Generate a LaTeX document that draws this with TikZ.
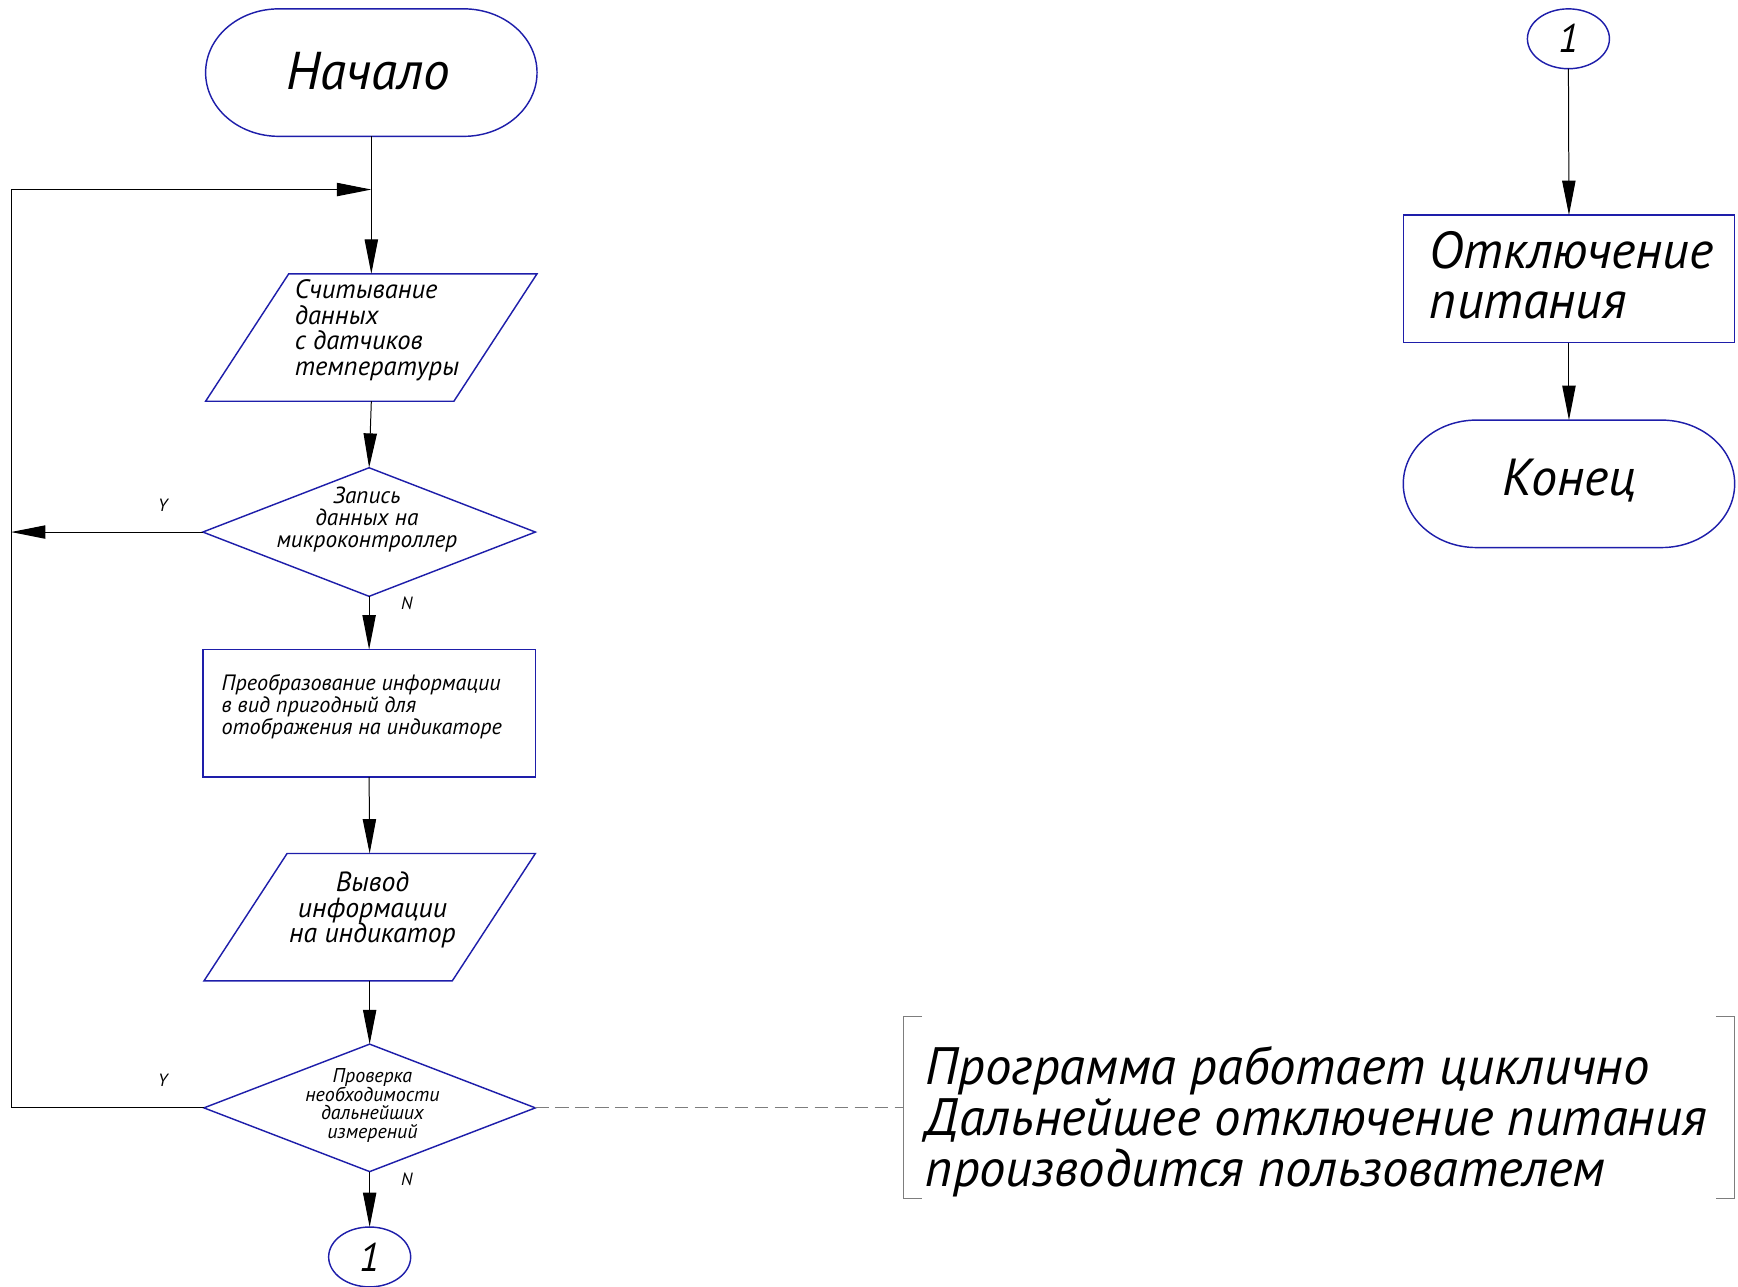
\documentclass[tikz,border=0pt]{standalone}
\usepackage{fontspec}
\setmainfont{PT Sans}
\usetikzlibrary{arrows.meta,calc}
\definecolor{shapeblue}{RGB}{30,30,170}
\definecolor{dashgray}{RGB}{125,125,125}
\newcommand{\gfs}[2]{\fontsize{#1}{#2}\selectfont\itshape}
\begin{document}
\begin{tikzpicture}[x=1pt,y=-1pt,
  outline/.style={draw=shapeblue,line width=1.3pt},
  box/.style={rectangle,inner sep=0pt,outer sep=0pt,minimum width=299pt,minimum height=115pt},
  oval/.style={rectangle,inner sep=0pt,outer sep=0pt,minimum width=74pt,minimum height=54pt},
  conn/.style={draw=black,line width=0.9pt,-{Triangle[length=31pt,width=12pt]}},
  dashline/.style={draw=dashgray,line width=0.9pt,dash pattern=on 12pt off 6pt},
  bracketline/.style={draw=dashgray,line width=0.9pt},
  txt/.style={inner sep=0pt,outer sep=0pt,text=black},
  yn/.style={inner sep=0pt,text=black,font=\gfs{16}{16}},
]
\useasboundingbox (0,0) rectangle (1568,1161);

% ---------- left column shape frames ----------
\node[box] (start) at (335,65.5) {};
\node[box] (p1) at (335,304.5) {};
\node[box,minimum width=300pt,minimum height=116pt] (d1) at (333,480) {};
\node[box,minimum width=300pt] (r1) at (333,643.5) {};
\node[box] (p2) at (333.5,827.5) {};
\node[box,minimum height=115pt] (d2) at (333.5,999.5) {};
\node[oval] (c1) at (333.5,1134) {};

% ---------- right column ----------
\node[oval] (c2) at (1415,35) {};
\node[box] (r2) at (1415.5,251.5) {};
\node[box] (stop) at (1415.5,436.5) {};

% note bracket frame
\node[rectangle,inner sep=0pt,outer sep=0pt,minimum width=750pt,minimum height=164pt] (note) at (1190,999.5) {};

% ---------- outlines ----------
\draw[outline] ([xshift=66pt]start.north west) -- ([xshift=-66pt]start.north east)
  arc[start angle=90,end angle=-90,x radius=66pt,y radius=57.5pt]
  -- ([xshift=66pt]start.south west)
  arc[start angle=270,end angle=90,x radius=66pt,y radius=57.5pt] -- cycle;
\draw[outline] ([xshift=66pt]stop.north west) -- ([xshift=-66pt]stop.north east)
  arc[start angle=90,end angle=-90,x radius=66pt,y radius=57.5pt]
  -- ([xshift=66pt]stop.south west)
  arc[start angle=270,end angle=90,x radius=66pt,y radius=57.5pt] -- cycle;
\draw[outline] ([xshift=75pt]p1.north west) -- (p1.north east) -- ([xshift=-75pt]p1.south east) -- (p1.south west) -- cycle;
\draw[outline] ([xshift=75pt]p2.north west) -- (p2.north east) -- ([xshift=-75pt]p2.south east) -- (p2.south west) -- cycle;
\draw[outline] (d1.north) -- (d1.east) -- (d1.south) -- (d1.west) -- cycle;
\draw[outline] (d2.north) -- (d2.east) -- (d2.south) -- (d2.west) -- cycle;
\draw[outline] (r1.north west) rectangle (r1.south east);
\draw[outline] (r2.north west) rectangle (r2.south east);
\draw[outline] (c1.center) ellipse[x radius=37pt,y radius=27pt];
\draw[outline] (c2.center) ellipse[x radius=37pt,y radius=27pt];

% ---------- texts ----------
\node[txt,font=\gfs{48}{48}] (startT) at (332,64) {Начало};
\node[txt,font=\gfs{24}{23},align=left,anchor=west] (p1T) at (266,298) {Считывание\\данных\\с датчиков\\температуры};
\node[txt,font=\gfs{21}{20},align=center] (d1T) at (331,469) {Запись\\данных на\\микроконтроллер};
\node[txt,font=\gfs{20}{19.5},align=left,anchor=west] (r1T) at (200,637.5) {Преобразование информации\\в вид пригодный для\\отображения на индикаторе};
\node[txt,font=\gfs{25}{23},align=center] (p2T) at (336,821) {Вывод\\информации\\на индикатор};
\node[txt,font=\gfs{18}{16.5},align=center] (d2T) at (336,997) {Проверка\\необходимости\\дальнейших\\измерений};
\node[txt,font=\gfs{36}{36}] (c1T) at (c1.center) {1};
\node[txt,font=\gfs{36}{36}] (c2T) at (c2.center) {1};
\node[txt,font=\gfs{47}{45},align=left,anchor=west] (r2T) at (1290,248.5) {Отключение\\питания};
\node[txt,font=\gfs{47}{47}] (stopT) at (1416,434) {Конец};
\node[txt,font=\gfs{47.5}{46},align=left,anchor=west] (noteT) at (835,1012) {Программа работает циклично\\Дальнейшее отключение питания\\производится пользователем};

\node[yn] (y1) at ([shift={(-36,-24)}]d1.west) {Y};
\node[yn] (n1) at ([shift={(34,6)}]d1.south) {N};
\node[yn] (y2) at ([shift={(-37,-24.5)}]d2.west) {Y};
\node[yn] (n2) at ([shift={(33.5,7)}]d2.south) {N};

% ---------- connectors ----------
\coordinate (loopTop) at (10,171);
\draw[conn] (start.south) -- (p1.north);
\draw[conn] (p1.south) -- (d1.north);
\draw[conn] (d1.south) -- (r1.north);
\draw[conn] (r1.south) -- (p2.north);
\draw[conn] (p2.south) -- (d2.north);
\draw[conn] (d2.south) -- (c1.north);
\draw[conn] (d1.west) -- (d1.west -| loopTop);
\draw[conn] (d2.west) -- (d2.west -| loopTop) -- (loopTop) -- (loopTop -| start.south);
\draw[conn] (c2.south) -- (r2.north);
\draw[conn] (r2.south) -- (stop.north);
\draw[dashline] (d2.east) -- (note.west);
\draw[bracketline] ([xshift=17pt]note.north west) -- (note.north west) -- (note.south west) -- ([xshift=17pt]note.south west);
\draw[bracketline] ([xshift=-17pt]note.north east) -- (note.north east) -- (note.south east) -- ([xshift=-17pt]note.south east);
\end{tikzpicture}
\end{document}
